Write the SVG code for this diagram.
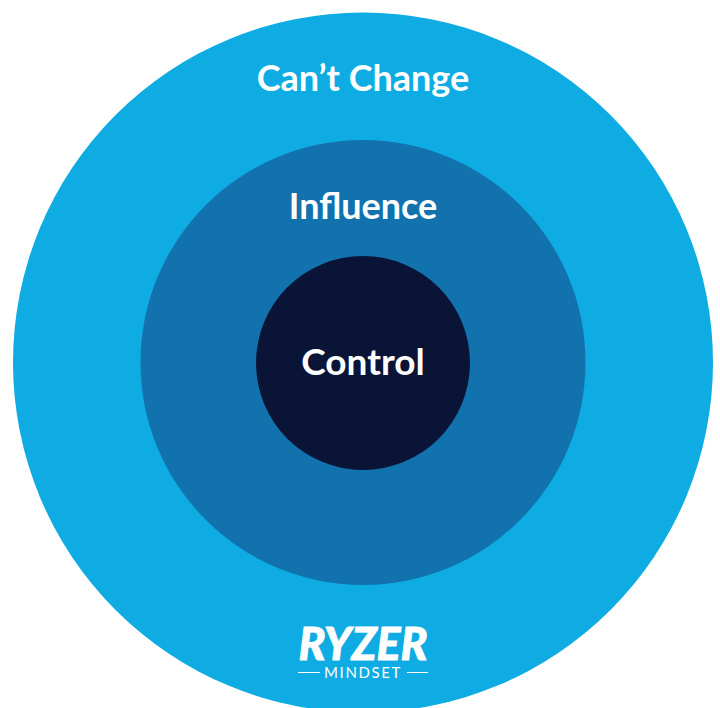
<svg xmlns="http://www.w3.org/2000/svg" width="720" height="708" viewBox="0 0 720 708">
<style>
.l{font-family:Lato,"Open Sans",sans-serif;font-weight:700;fill:#fff;text-anchor:middle}
.big{font-size:36px}
</style>
<rect width="720" height="708" fill="#ffffff"/>
<g id="node-cant-change"><circle cx="363" cy="362.500" r="350" fill="#0eace2"/><text class="l big" x="363" y="91">Can’t Change</text></g>
<g id="node-influence"><circle cx="363" cy="362.500" r="222.500" fill="#1272ae"/><text class="l big" x="363" y="218.500">Influence</text></g>
<g id="node-control"><circle cx="363" cy="363" r="107" fill="#0a1436"/><text class="l" font-size="37" x="363" y="374.500">Control</text></g>
<g id="logo">
<text x="363" y="660" text-anchor="middle" font-family="Lato,sans-serif" font-weight="900" font-style="italic" font-size="45" stroke="#fff" stroke-width="0.800" fill="#fff" textLength="129" lengthAdjust="spacingAndGlyphs">RYZER</text>
<text x="363" y="678" text-anchor="middle" font-family="Lato,sans-serif" font-size="15" letter-spacing="1.600" fill="#fff">MINDSET</text>
<path d="M298 672.500H320M407 672.500H428" stroke="#fff" stroke-width="1.200" fill="none"/>
</g>
</svg>
